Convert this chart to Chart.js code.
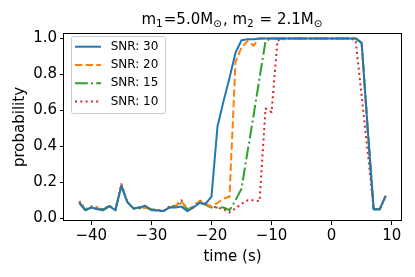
<!DOCTYPE html>
<html>
<head>
<meta charset="utf-8">
<script src="https://cdn.jsdelivr.net/npm/chart.js@4.4.1/dist/chart.umd.min.js"></script>
<style>
  html, body { margin: 0; padding: 0; background: #fff; }
</style>
</head>
<body>
<canvas id="chart" width="415" height="277"></canvas>
<script>
// time axis (s)
const times = [-42, -41, -40, -39, -38, -37, -36, -35, -34, -33, -32, -31, -30, -29, -28, -27, -26,
  -25, -24, -23, -22, -21, -20, -19, -18, -17, -16, -15, -14, -13, -12, -11, -10, -9, -8, -7, -6,
  -5, -4, -3, -2, -1, 0, 1, 2, 3, 4, 5, 6, 7, 8, 9];

const snr30 = [0.085, 0.045, 0.06, 0.05, 0.045, 0.068, 0.045, 0.18, 0.09, 0.055, 0.06, 0.07, 0.045,
  0.045, 0.04, 0.06, 0.06, 0.065, 0.04, 0.06, 0.085, 0.08,
  0.12, 0.51, 0.65, 0.78, 0.92, 0.99, 0.995, 0.995, 1.0, 1.0,
  1.0, 1.0, 1.0, 1.0, 1.0, 1.0, 1.0, 1.0, 1.0, 1.0, 1.0, 1.0, 1.0, 1.0,
  1.0, 0.975, 0.5, 0.05, 0.05, 0.125];

const snr20 = [0.09, 0.045, 0.06, 0.055, 0.045, 0.07, 0.045, 0.185, 0.09, 0.055, 0.06, 0.06, 0.05,
  0.045, 0.04, 0.06, 0.065, 0.095, 0.05, 0.06, 0.095, 0.08,
  0.065, 0.085, 0.11, 0.12, 0.87, 0.95, 0.985, 0.96, 1.0, 1.0,
  1.0, 1.0, 1.0, 1.0, 1.0, 1.0, 1.0, 1.0, 1.0, 1.0, 1.0, 1.0, 1.0, 1.0,
  1.0, 0.975, 0.5, 0.05, 0.05, 0.125];

const snr15 = [0.09, 0.045, 0.065, 0.055, 0.05, 0.07, 0.045, 0.18, 0.09, 0.055, 0.055, 0.06, 0.05,
  0.04, 0.04, 0.06, 0.07, 0.085, 0.05, 0.065, 0.09, 0.075,
  0.06, 0.06, 0.06, 0.045, 0.10, 0.165, 0.37, 0.57, 0.78, 0.985,
  1.0, 1.0, 1.0, 1.0, 1.0, 1.0, 1.0, 1.0, 1.0, 1.0, 1.0, 1.0, 1.0, 1.0,
  1.0, 0.975, 0.5, 0.05, 0.05, 0.125];

const snr10 = [0.095, 0.05, 0.065, 0.06, 0.05, 0.07, 0.05, 0.19, 0.09, 0.055, 0.06, 0.06, 0.05,
  0.045, 0.04, 0.065, 0.07, 0.10, 0.05, 0.065, 0.10, 0.08,
  0.065, 0.06, 0.05, 0.033, 0.055, 0.08, 0.10, 0.10, 0.095, 0.61, 0.59, 0.99, 0.995,
  1.0, 1.0, 1.0, 1.0, 1.0, 1.0, 1.0, 1.0, 1.0, 1.0, 1.0,
  0.99, 0.68, 0.37, 0.05, 0.05, 0.125];

const seriesLabels = ['SNR: 30', 'SNR: 20', 'SNR: 15', 'SNR: 10'];
const xTicks = [-40, -30, -20, -10, 0, 10];
const yTicks = [0.0, 0.2, 0.4, 0.6, 0.8, 1.0];

// title pieces: [text, isSubscript]
const titleParts = [['m', false], ['1', true], ['=5.0M', false], ['\u2299', true],
  [', m', false], ['2', true], [' = 2.1M', false], ['\u2299', true]];

const FONT = "'DejaVu Sans', sans-serif";
Chart.defaults.font.family = FONT;
Chart.defaults.color = '#000';

function pts(ys) {
  return times.map((t, i) => ({ x: t, y: ys[i] }));
}

const styles = [
  { color: '#1f77b4', dash: [] },
  { color: '#ff7f0e', dash: [7.4, 3.2] },
  { color: '#2ca02c', dash: [12.8, 3.2, 2, 3.2] },
  { color: '#d62728', dash: [2, 3.3] }
];

const datasets = [snr30, snr20, snr15, snr10].map((ys, i) => ({
  label: seriesLabels[i],
  data: pts(ys),
  borderColor: styles[i].color,
  backgroundColor: styles[i].color,
  borderDash: styles[i].dash,
  borderWidth: 2,
  borderJoinStyle: 'round',
  pointRadius: 0,
  tension: 0,
  fill: false
}));

// spines on all four sides
const framePlugin = {
  id: 'frame',
  afterDatasetsDraw(chart) {
    const a = chart.chartArea;
    const ctx = chart.ctx;
    ctx.save();
    ctx.strokeStyle = '#000';
    ctx.lineWidth = 1;
    ctx.strokeRect(Math.round(a.left) - 0.5, Math.round(a.top) + 0.5,
      Math.round(a.right - a.left) + 1, Math.round(a.bottom - a.top) - 1);
    ctx.restore();
  }
};

// matplotlib-like legend box in the upper left corner
const legendPlugin = {
  id: 'mplLegend',
  afterDraw(chart) {
    const a = chart.chartArea;
    const ctx = chart.ctx;
    const x0 = a.left + 7, y0 = a.top + 3;
    ctx.save();
    ctx.beginPath();
    ctx.roundRect(x0 + 0.5, y0 + 0.5, 94, 77, 2);
    ctx.fillStyle = 'rgba(255,255,255,0.8)';
    ctx.fill();
    ctx.strokeStyle = '#cccccc';
    ctx.lineWidth = 1;
    ctx.stroke();
    ctx.font = '12px ' + FONT;
    ctx.textBaseline = 'middle';
    chart.data.datasets.forEach((ds, i) => {
      const y = a.top + 13.7 + i * 18.3;
      ctx.beginPath();
      ctx.setLineDash(ds.borderDash);
      ctx.strokeStyle = ds.borderColor;
      ctx.lineWidth = 2;
      ctx.moveTo(a.left + 11, y);
      ctx.lineTo(a.left + 37, y);
      ctx.stroke();
      ctx.setLineDash([]);
      ctx.fillStyle = '#000';
      ctx.fillText(ds.label, a.left + 46.7, y);
    });
    ctx.restore();
  }
};

// title with subscripts
const titlePlugin = {
  id: 'subTitle',
  afterDraw(chart) {
    const a = chart.chartArea;
    const ctx = chart.ctx;
    const big = '15px ' + FONT, small = '10.5px ' + FONT;
    ctx.save();
    ctx.fillStyle = '#000';
    ctx.textBaseline = 'alphabetic';
    let total = 0;
    titleParts.forEach(([s, sub]) => {
      ctx.font = sub ? small : big;
      total += ctx.measureText(s).width + (sub ? 1 : 0);
    });
    let x = (a.left + a.right) / 2 - total / 2;
    titleParts.forEach(([s, sub]) => {
      ctx.font = sub ? small : big;
      ctx.fillText(s, x, sub ? 27 : 24);
      x += ctx.measureText(s).width + (sub ? 1 : 0);
    });
    ctx.restore();
  }
};

new Chart(document.getElementById('chart'), {
  type: 'line',
  data: { datasets: datasets },
  options: {
    responsive: false,
    animation: false,
    layout: { padding: { top: 33, right: 14, left: 0, bottom: 0 } },
    plugins: {
      legend: { display: false },
      title: { display: false },
      tooltip: { enabled: false }
    },
    scales: {
      x: {
        type: 'linear',
        min: -44.55,
        max: 11.55,
        afterFit: (scale) => { scale.height = 56; },
        afterBuildTicks: (scale) => { scale.ticks = xTicks.map(v => ({ value: v })); },
        border: { display: false },
        grid: { drawOnChartArea: false, drawTicks: true, tickLength: 4, color: '#000' },
        ticks: {
          font: { size: 15 },
          padding: 2,
          maxRotation: 0,
          callback: (v) => String(v).replace('-', '\u2212')
        },
        title: {
          display: true,
          text: 'time (s)',
          font: { size: 15, lineHeight: 1.2 },
          padding: { top: 0, bottom: 11 }
        }
      },
      y: {
        min: -0.015,
        max: 1.03,
        afterFit: (scale) => { scale.width = 64; },
        afterBuildTicks: (scale) => { scale.ticks = yTicks.map(v => ({ value: v })); },
        border: { display: false },
        grid: { drawOnChartArea: false, drawTicks: true, tickLength: 4, color: '#000' },
        ticks: {
          font: { size: 15 },
          padding: 3,
          callback: (v) => v.toFixed(1)
        },
        title: {
          display: true,
          text: 'probability',
          font: { size: 15, lineHeight: 1.2 },
          padding: { top: 11, bottom: 0 }
        }
      }
    }
  },
  plugins: [framePlugin, legendPlugin, titlePlugin]
});
</script>
</body>
</html>
